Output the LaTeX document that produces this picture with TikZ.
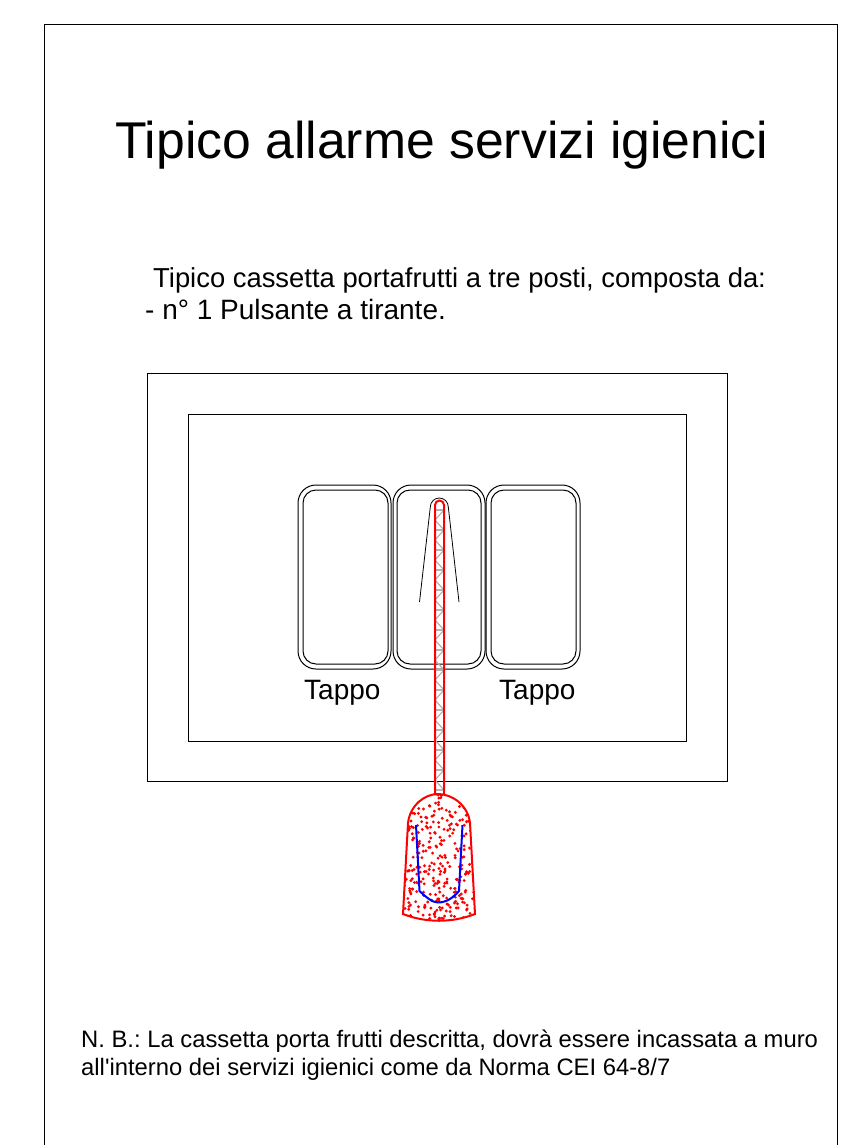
\documentclass[tikz,border=0pt]{standalone}
\usepackage{fontspec}
\setmainfont{Liberation Sans}[Ligatures=TeXOff]
\frenchspacing
\tikzset{
  plate/.style={draw,line width=1pt,rounded corners=18},
  well/.style={draw,line width=1pt,rounded corners=13},
  label/.style={inner sep=0pt,anchor=base west},
  rope/.style={draw=red,line width=2pt},
  rung/.style={draw=gray!60,line width=1.2pt},
  dot/.style={fill=red,draw=none}
}
\begin{document}
\begin{tikzpicture}[x=1pt,y=-1pt]
  \useasboundingbox (0,0) rectangle (855,1145);
  \draw[line width=1pt] (44,1145) -- (44,25) -- (837.5,25) -- (837.5,1145);
  \node[label,font=\fontsize{51.7}{52}\selectfont] (title) at (115,158) {Tipico allarme servizi igienici};
  \node[label,font=\fontsize{27.4}{28}\selectfont] (head) at (153,287.5) {Tipico cassetta portafrutti a tre posti, composta da:};
  \node[label,font=\fontsize{28}{28}\selectfont] (item) at (145,319) {- n° 1 Pulsante a tirante.};
  % box
  \draw[line width=1pt] (147.5,373.5) rectangle (727,781);
  \draw[line width=1pt] (188,414) rectangle (686.5,741);
  % plates
  \draw[plate] (298,485) rectangle (391,669);
  \draw[well] (303,490) rectangle (388,664);
  \draw[plate] (393,485) rectangle (485,669);
  \draw[well] (397,490) rectangle (481,664);
  \draw[plate] (486,485) rectangle (580,669);
  \draw[well] (491,490) rectangle (576,664);
  \node[label,font=\fontsize{28}{28}\selectfont] (tappoA) at (304,699) {Tappo};
  \node[label,font=\fontsize{28}{28}\selectfont] (tappoB) at (499,699) {Tappo};
  % slot
  \draw[line width=0.8pt] (419.5,602) -- (430.3,507) arc[start angle=180,end angle=360,radius=9] -- (459,602);
  % rope
  \foreach \y in {510,530,...,790} {
    \draw[rung] (435,\y) -- (444,\y);
  }
  \foreach \y in {510,530,...,770} {
    \draw[rung] (444,\y) -- (435,\y+10) -- (444,\y+20);
  }
  \draw[rope] (435,795) -- (435,505) arc[start angle=180,end angle=360,radius=4.5] -- (444,795);
  % handle
  \begin{scope}
    \clip (403,914) -- (408,823) .. controls (410,805) and (425,794) .. (438,794) .. controls (452,794) and (468,805) .. (470,823) -- (475,914) .. controls (452,923) and (426,923) .. (403,914) -- cycle;
    \pgfmathsetseed{64}
    \foreach \i in {1,...,330} {
      \pgfmathsetmacro{\xd}{402+74*rnd}
      \pgfmathsetmacro{\yd}{794+127*rnd}
      \fill[dot] (\xd,\yd) circle (1.6);
    }
  \end{scope}
  \draw[draw=red,line width=2pt] (403,914) -- (408,823) .. controls (410,805) and (425,794) .. (438,794) .. controls (452,794) and (468,805) .. (470,823) -- (475,914) .. controls (452,923) and (426,923) .. (403,914) -- cycle;
  \draw[blue,line width=2pt] (416,825) -- (419.5,891) .. controls (426,897) and (432,902.5) .. (438,902.5) .. controls (446,902.5) and (453,898) .. (459,891) -- (462.5,825);
  % note
  \node[label,font=\fontsize{23.8}{24}\selectfont] (noteA) at (81,1047) {N. B.: La cassetta porta frutti descritta, dovrà essere incassata a muro};
  \node[label,font=\fontsize{23.8}{24}\selectfont] (noteB) at (81,1075) {all'interno dei servizi igienici come da Norma CEI 64-8/7};
\end{tikzpicture}
\end{document}
